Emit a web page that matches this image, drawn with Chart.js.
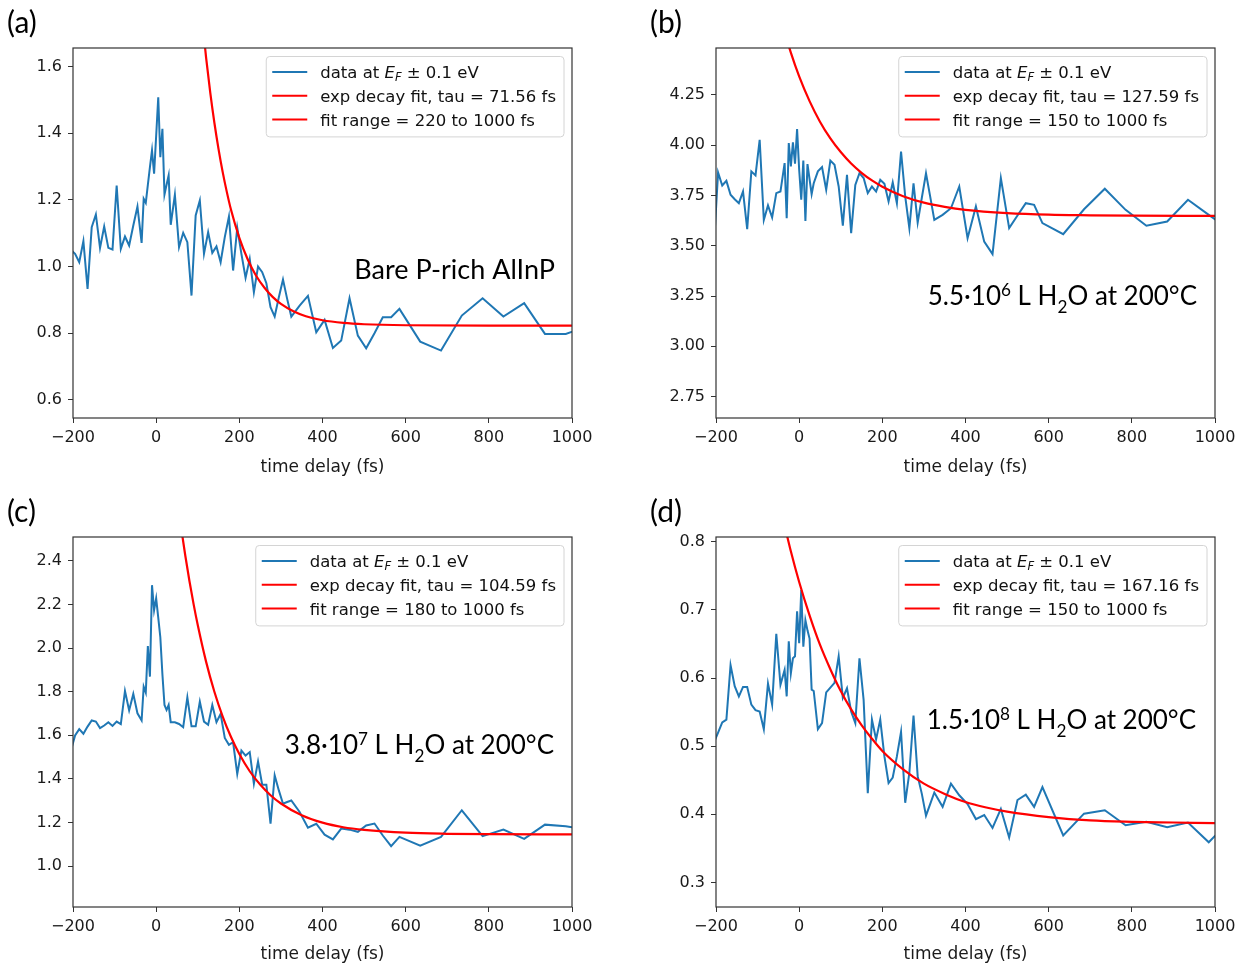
<!DOCTYPE html>
<html>
<head>
<meta charset="utf-8">
<style>
  body { margin: 0; background: #fff; width: 1249px; height: 969px; position: relative; overflow: hidden; }
  canvas { position: absolute; }
</style>
</head>
<body>
  <canvas id="chartA" width="600" height="489" style="left:0px;top:0px"></canvas>
  <canvas id="chartB" width="600" height="489" style="left:643px;top:0px"></canvas>
  <canvas id="chartC" width="600" height="480" style="left:0px;top:489px"></canvas>
  <canvas id="chartD" width="600" height="480" style="left:643px;top:489px"></canvas>

  <script src="https://cdn.jsdelivr.net/npm/chart.js"></script>

  <script>
    // time grid (fs), shared by the four measurements
    const timeDelay = [-205, -195, -185, -175, -165, -155, -145, -135, -125, -115, -105, -95, -85, -75, -65, -55, -45, -35,
      -30, -25, -20, -15, -10, -5, 0, 5, 10, 15, 20, 25, 30, 35,
      45, 55, 65, 75, 85, 95, 105, 115, 125, 135, 145, 155, 165, 175, 185, 195, 205, 215, 225, 235, 245, 255, 265, 275, 285, 295, 305, 315, 325,
      345, 365, 385, 405, 425, 445, 465, 485, 505, 525, 545, 565, 585,
      635, 685, 735, 785, 835, 885, 935, 985, 1035];

    // signal at E_F +- 0.1 eV
    const signalA = [1.05, 1.038, 1.013, 1.076, 0.933, 1.118, 1.156, 1.056, 1.12, 1.056, 1.051, 1.243, 1.053, 1.09, 1.063, 1.123, 1.18, 1.071,
      1.203, 1.191, 1.245, 1.298, 1.348, 1.278, 1.392, 1.507, 1.328, 1.413, 1.216, 1.245, 1.273, 1.125,
      1.215, 1.058, 1.101, 1.073, 0.913, 1.153, 1.198, 1.038, 1.103, 1.041, 1.06, 1.013, 1.088, 1.15, 0.988, 1.116, 1.038, 0.966, 1.023, 0.923, 1.0, 0.983, 0.95, 0.878, 0.85, 0.908, 0.961, 0.903, 0.85,
      0.883, 0.912, 0.803, 0.84, 0.756, 0.778, 0.905, 0.793, 0.755, 0.80, 0.848, 0.848, 0.873,
      0.775, 0.748, 0.853, 0.905, 0.85, 0.89, 0.798, 0.798, 0.82];
    const signalB = [3.50, 3.864, 3.799, 3.822, 3.753, 3.731, 3.711, 3.769, 3.582, 3.869, 3.849, 4.026, 3.628, 3.70, 3.64, 3.761, 3.769, 3.91,
      3.637, 4.01, 3.894, 4.013, 3.907, 4.079, 3.877, 3.728, 3.923, 3.623, 3.905, 3.83, 3.756, 3.81,
      3.869, 3.89, 3.778, 3.923, 3.902, 3.794, 3.60, 3.852, 3.562, 3.802, 3.86, 3.836, 3.761, 3.794, 3.769, 3.827, 3.807, 3.72, 3.814, 3.711, 3.968, 3.745, 3.587, 3.81, 3.615, 3.738, 3.86, 3.745, 3.628,
      3.653, 3.686, 3.794, 3.537, 3.695, 3.52, 3.458, 3.836, 3.587, 3.65, 3.711, 3.703, 3.612,
      3.557, 3.681, 3.783, 3.678, 3.599, 3.62, 3.728, 3.653, 3.58];
    const signalC = [1.53, 1.599, 1.628, 1.607, 1.64, 1.668, 1.663, 1.633, 1.645, 1.66, 1.643, 1.663, 1.651, 1.803, 1.714, 1.79, 1.701, 1.668,
      1.823, 1.796, 2.009, 1.869, 2.289, 2.174, 2.228, 2.14, 2.05, 1.88, 1.739, 1.716, 1.739, 1.66,
      1.66, 1.652, 1.637, 1.774, 1.641, 1.641, 1.754, 1.663, 1.648, 1.739, 1.66, 1.698, 1.588, 1.556, 1.568, 1.423, 1.53, 1.507, 1.523, 1.378, 1.48, 1.373, 1.373, 1.195, 1.416, 1.347, 1.286, 1.294, 1.301,
      1.248, 1.176, 1.194, 1.144, 1.122, 1.172, 1.167, 1.157, 1.186, 1.195, 1.14, 1.091, 1.134,
      1.094, 1.134, 1.256, 1.137, 1.167, 1.125, 1.19, 1.183, 1.165];
    const signalD = [0.505, 0.52, 0.535, 0.539, 0.619, 0.588, 0.573, 0.587, 0.587, 0.561, 0.553, 0.551, 0.525, 0.592, 0.561, 0.665, 0.59, 0.612,
      0.573, 0.654, 0.607, 0.629, 0.632, 0.698, 0.651, 0.729, 0.646, 0.685, 0.67, 0.658, 0.583, 0.581,
      0.525, 0.534, 0.579, 0.586, 0.593, 0.632, 0.571, 0.585, 0.551, 0.534, 0.629, 0.568, 0.431, 0.539, 0.51, 0.539, 0.485, 0.446, 0.454, 0.485, 0.521, 0.417, 0.461, 0.545, 0.456, 0.43, 0.398, 0.415, 0.432,
      0.411, 0.445, 0.428, 0.415, 0.393, 0.399, 0.38, 0.408, 0.366, 0.421, 0.429, 0.411, 0.44,
      0.369, 0.401, 0.406, 0.384, 0.389, 0.381, 0.388, 0.359, 0.39];

    // exp decay fit curves
    const fitTimeA = [100, 110, 120, 130, 140, 150, 160, 170, 180, 200, 220, 240, 260, 280, 300, 330, 360, 400, 450, 500, 600, 800, 1000];
    const fitValueA = [1.886, 1.748, 1.627, 1.522, 1.431, 1.352, 1.283, 1.223, 1.170, 1.086, 1.022, 0.973, 0.937, 0.909, 0.888, 0.866, 0.851, 0.839, 0.831, 0.827, 0.824, 0.823, 0.823];
    const fitTimeB = [-40, -20, 0, 25, 50, 75, 100, 125, 150, 175, 200, 250, 300, 350, 400, 500, 600, 700, 800, 1000];
    const fitValueB = [4.596, 4.459, 4.341, 4.218, 4.116, 4.033, 3.965, 3.908, 3.862, 3.824, 3.793, 3.746, 3.714, 3.693, 3.678, 3.662, 3.654, 3.651, 3.649, 3.648];
    const fitTimeC = [50, 60, 70, 80, 90, 100, 120, 140, 160, 180, 200, 225, 250, 275, 300, 350, 400, 450, 500, 600, 700, 800, 1000];
    const fitValueC = [2.694, 2.553, 2.425, 2.308, 2.202, 2.106, 1.938, 1.800, 1.686, 1.592, 1.514, 1.435, 1.374, 1.325, 1.287, 1.233, 1.199, 1.178, 1.166, 1.153, 1.148, 1.146, 1.145];
    const fitTimeD = [-40, -20, 0, 25, 50, 75, 100, 125, 150, 175, 200, 250, 300, 350, 400, 450, 500, 600, 700, 800, 900, 1000];
    const fitValueD = [0.837, 0.786, 0.741, 0.692, 0.649, 0.613, 0.581, 0.554, 0.531, 0.511, 0.493, 0.466, 0.445, 0.430, 0.418, 0.410, 0.404, 0.396, 0.391, 0.389, 0.388, 0.387];

    // ticks
    const xTicks = [-200, 0, 200, 400, 600, 800, 1000];
    const yTicksA = [0.6, 0.8, 1.0, 1.2, 1.4, 1.6];
    const yTicksB = [2.75, 3.0, 3.25, 3.5, 3.75, 4.0, 4.25];
    const yTicksC = [1.0, 1.2, 1.4, 1.6, 1.8, 2.0, 2.2, 2.4];
    const yTicksD = [0.3, 0.4, 0.5, 0.6, 0.7, 0.8];

    // legend texts
    const tauLabels = ['exp decay fit, tau = 71.56 fs', 'exp decay fit, tau = 127.59 fs', 'exp decay fit, tau = 104.59 fs', 'exp decay fit, tau = 167.16 fs'];
    const rangeLabels = ['fit range = 220 to 1000 fs', 'fit range = 150 to 1000 fs', 'fit range = 180 to 1000 fs', 'fit range = 150 to 1000 fs'];
    const panelLetters = ['(a)', '(b)', '(c)', '(d)'];
    const exposures = [null, ['5.5', '6'], ['3.8', '7'], ['1.5', '8']];

    const TICK_FONT = '"DejaVu Sans", sans-serif';
    const NOTE_FONT = 'Lato, "Open Sans", sans-serif';

    function richWidth(ctx, parts, size, family) {
      let w = 0;
      parts.forEach(p => {
        const s = (p.sub || p.sup) ? size * p.scale : size;
        ctx.font = (p.it ? 'italic ' : '') + s + 'px ' + family;
        w += ctx.measureText(p.t).width;
      });
      return w;
    }

    function drawRich(ctx, parts, x, y, size, family) {
      parts.forEach(p => {
        const s = (p.sub || p.sup) ? size * p.scale : size;
        ctx.font = (p.it ? 'italic ' : '') + s + 'px ' + family;
        let dy = 0;
        if (p.sub) dy = p.dy * size;
        if (p.sup) dy = -p.dy * size;
        ctx.fillText(p.t, x, y + dy);
        x += ctx.measureText(p.t).width;
      });
    }

    function roundRect(ctx, x, y, w, h, r) {
      ctx.beginPath();
      ctx.moveTo(x + r, y);
      ctx.lineTo(x + w - r, y);
      ctx.quadraticCurveTo(x + w, y, x + w, y + r);
      ctx.lineTo(x + w, y + h - r);
      ctx.quadraticCurveTo(x + w, y + h, x + w - r, y + h);
      ctx.lineTo(x + r, y + h);
      ctx.quadraticCurveTo(x, y + h, x, y + h - r);
      ctx.lineTo(x, y + r);
      ctx.quadraticCurveTo(x, y, x + r, y);
      ctx.closePath();
    }

    const panelDecor = {
      id: 'panelDecor',
      afterDatasetsDraw(chart, args, opts) {
        const { ctx, chartArea: a } = chart;
        ctx.save();
        ctx.strokeStyle = '#333';
        ctx.lineWidth = 1.2;
        ctx.strokeRect(a.left, a.top, a.right - a.left, a.bottom - a.top);
        ctx.restore();
      },
      afterDraw(chart, args, opts) {
        const { ctx, chartArea: a } = chart;
        ctx.save();
        ctx.textBaseline = 'alphabetic';
        ctx.textAlign = 'left';
        ctx.fillStyle = '#111';

        // legend box
        const fs = 16.5;
        const rows = opts.legendRows;
        const textW = Math.max(...rows.map(r => richWidth(ctx, r.parts, fs, TICK_FONT)));
        const padL = 6, handle = 35, gap = 13, padR = 8, rowH = 23.7, padT = 15.5, padB = 17.5;
        const w = padL + handle + gap + textW + padR;
        const h = padT + rowH * (rows.length - 1) + padB;
        const lx = a.right - 8 - w, ly = a.top + 8.5;
        roundRect(ctx, lx, ly, w, h, 3.5);
        ctx.fillStyle = 'rgba(255,255,255,0.8)';
        ctx.fill();
        ctx.strokeStyle = '#d4d4d4';
        ctx.lineWidth = 1;
        ctx.stroke();
        rows.forEach((r, i) => {
          const cy = ly + padT + i * rowH;
          ctx.strokeStyle = r.color;
          ctx.lineWidth = 2;
          ctx.beginPath();
          ctx.moveTo(lx + padL, cy);
          ctx.lineTo(lx + padL + handle, cy);
          ctx.stroke();
          ctx.fillStyle = '#111';
          drawRich(ctx, r.parts, lx + padL + handle + gap, cy + fs * 0.37, fs, TICK_FONT);
        });

        // sample annotation, right aligned
        const ns = opts.noteSize;
        ctx.fillStyle = '#000';
        const nw = richWidth(ctx, opts.note, ns, NOTE_FONT);
        drawRich(ctx, opts.note, a.right + opts.noteDx - nw, a.top + opts.noteDy, ns, NOTE_FONT);

        // panel letter
        ctx.font = '30px ' + NOTE_FONT;
        ctx.fillText(opts.letter, 7, 33);
        ctx.restore();
      }
    };

    function fmtX(v) {
      return v < 0 ? '\u2212' + Math.abs(v) : String(v);
    }

    function buildPanel(p) {
      const canvas = document.getElementById(p.id);
      const signal = timeDelay.map((t, i) => ({ x: t, y: p.signal[i] }));
      const fit = p.fitT.map((t, i) => ({ x: t, y: p.fitV[i] }));
      const legendRows = [
        { color: '#1f77b4', parts: [{ t: 'data at ' }, { t: 'E', it: true }, { t: 'F', it: true, sub: true, scale: 0.7, dy: 0.2 }, { t: ' \u00b1 0.1 eV' }] },
        { color: '#ff0000', parts: [{ t: p.tau }] },
        { color: '#ff0000', parts: [{ t: p.range }] }
      ];
      new Chart(canvas, {
        type: 'line',
        data: {
          datasets: [
            { label: 'fit', data: fit, borderColor: '#ff0000', borderWidth: 2.2, pointRadius: 0, cubicInterpolationMode: 'monotone', order: 0 },
            { label: 'data', data: signal, borderColor: '#1f77b4', borderWidth: 2, pointRadius: 0, tension: 0, order: 1 }
          ]
        },
        options: {
          responsive: false,
          animation: false,
          devicePixelRatio: 1,
          layout: { padding: { left: 0, top: 48, right: 28, bottom: 0 } },
          plugins: {
            legend: { display: false },
            tooltip: { enabled: false },
            panelDecor: { legendRows: legendRows, note: p.note, noteSize: p.noteSize, noteDx: p.noteDx, noteDy: p.noteDy, letter: p.letter }
          },
          scales: {
            x: {
              type: 'linear',
              min: -200,
              max: 1000,
              afterBuildTicks: s => { s.ticks = xTicks.map(v => ({ value: v })); },
              afterFit: s => { s.height = p.xAxisH; },
              ticks: { font: { family: TICK_FONT, size: 16 }, color: '#1a1a1a', padding: 5, maxRotation: 0, autoSkip: false, callback: fmtX },
              grid: { drawOnChartArea: false, tickLength: 5, color: '#333', lineWidth: 1 },
              border: { display: false },
              title: { display: true, text: 'time delay (fs)', font: { family: TICK_FONT, size: 17 }, color: '#1a1a1a', padding: { top: 0, bottom: p.titlePad } }
            },
            y: {
              type: 'linear',
              min: p.yMin,
              max: p.yMax,
              afterBuildTicks: s => { s.ticks = p.yTicks.map(v => ({ value: v })); },
              afterFit: s => { s.width = 73; },
              ticks: { font: { family: TICK_FONT, size: 16 }, color: '#1a1a1a', padding: 6, autoSkip: false, callback: v => v.toFixed(p.dec) },
              grid: { drawOnChartArea: false, tickLength: 5, color: '#333', lineWidth: 1 },
              border: { display: false }
            }
          }
        },
        plugins: [panelDecor]
      });
    }

    function waterNote(exp) {
      return [{ t: exp[0] + '\u00b710' }, { t: exp[1], sup: true, scale: 0.66, dy: 0.34 }, { t: ' L H' }, { t: '2', sub: true, scale: 0.66, dy: 0.3 }, { t: 'O at 200\u00b0C' }];
    }

    const panels = [
      { id: 'chartA', signal: signalA, fitT: fitTimeA, fitV: fitValueA, yMin: 0.546, yMax: 1.655, yTicks: yTicksA, dec: 1, xAxisH: 71, titlePad: 11,
        tau: tauLabels[0], range: rangeLabels[0], letter: panelLetters[0], note: [{ t: 'Bare P-rich AlInP' }], noteSize: 27, noteDx: -17, noteDy: 231 },
      { id: 'chartB', signal: signalB, fitT: fitTimeB, fitV: fitValueB, yMin: 2.644, yMax: 4.482, yTicks: yTicksB, dec: 2, xAxisH: 71, titlePad: 11,
        tau: tauLabels[1], range: rangeLabels[1], letter: panelLetters[1], note: waterNote(exposures[1]), noteSize: 26, noteDx: -18, noteDy: 257 },
      { id: 'chartC', signal: signalC, fitT: fitTimeC, fitV: fitValueC, yMin: 0.812, yMax: 2.51, yTicks: yTicksC, dec: 1, xAxisH: 62, titlePad: 4,
        tau: tauLabels[2], range: rangeLabels[2], letter: panelLetters[2], note: waterNote(exposures[2]), noteSize: 26, noteDx: -18, noteDy: 217 },
      { id: 'chartD', signal: signalD, fitT: fitTimeD, fitV: fitValueD, yMin: 0.264, yMax: 0.807, yTicks: yTicksD, dec: 1, xAxisH: 62, titlePad: 4,
        tau: tauLabels[3], range: rangeLabels[3], letter: panelLetters[3], note: waterNote(exposures[3]), noteSize: 26, noteDx: -19, noteDy: 192 }
    ];

    const fontsReady = Promise.all([
      '16px "DejaVu Sans"', 'italic 16px "DejaVu Sans"', '27px Lato'
    ].map(f => document.fonts.load(f))).catch(() => {});
    fontsReady.then(() => panels.forEach(buildPanel));
  </script>
</body>
</html>
